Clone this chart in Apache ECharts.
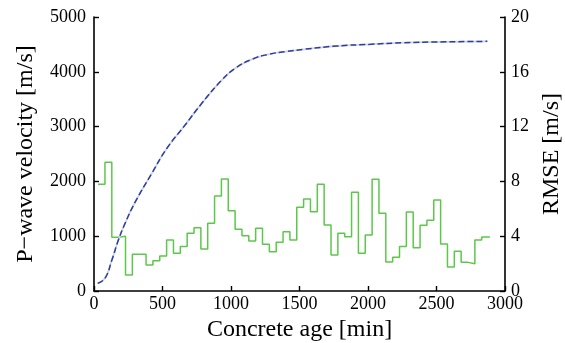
<!DOCTYPE html>
<html>
<head>
<meta charset="utf-8">
<script src="https://cdn.jsdelivr.net/npm/echarts@6/dist/echarts.min.js"></script>
<style>html,body{margin:0;padding:0;background:#fff;}#c{width:565px;height:343px;}</style>
</head>
<body>
<div id="c"></div>
<script>
// P-wave velocity curve (time [min], velocity [m/s])
const velTime = [27, 80, 130, 178, 227, 300, 422, 531, 665, 787, 933, 1031, 1153, 1274, 1396, 1530, 1774, 2018, 2261, 2505, 2871];
const velValue = [140, 232, 560, 930, 1235, 1620, 2147, 2600, 3029, 3425, 3850, 4064, 4228, 4319, 4367, 4410, 4471, 4502, 4531, 4544, 4556];
// RMSE step line: segment start times and values
const rmseTime = [30,80,130,180,230,280,330,380,430,480,530,580,630,680,730,780,830,880,930,980,1030,1080,1130,1180,1230,1280,1330,1380,1430,1480,1530,1580,1630,1680,1730,1780,1830,1880,1930,1980,2030,2080,2130,2180,2230,2280,2330,2380,2430,2480,2530,2580,2630,2680,2730,2780,2830,2890];
const rmseValue = [7.79,9.39,3.92,3.99,1.17,2.68,2.68,1.9,2.21,2.55,3.72,2.75,3.24,4.21,4.62,3.07,4.94,6.93,8.18,5.86,4.5,4.04,3.65,4.58,3.41,2.87,3.55,4.33,3.72,6.11,6.72,5.79,7.79,4.82,2.63,4.21,3.96,7.2,2.75,4.09,8.15,5.67,2.12,2.46,3.24,5.77,3.16,4.8,5.16,6.64,3.43,1.75,2.9,2.09,1.99,3.72,3.94,3.94];
// Axis ticks
const xTicks = [0, 500, 1000, 1500, 2000, 2500, 3000];
const yLeftTicks = [0, 1000, 2000, 3000, 4000, 5000];
const yRightTicks = [0, 4, 8, 12, 16, 20];

const FONT = '"Liberation Serif", "DejaVu Serif", serif';
const velData = velTime.map((t, i) => [t, velValue[i]]);
const rmseData = rmseTime.map((t, i) => [t, rmseValue[i]]);

const axisLine = {show: true, lineStyle: {color: '#000', width: 1.6}};
const axisTick = {show: true, inside: true, length: 5, lineStyle: {color: '#000', width: 1.4}};
const labelStyle = {color: '#000', fontFamily: FONT, fontSize: 18, formatter: v => String(v)};
const nameStyle = {color: '#000', fontFamily: FONT, fontSize: 24};

const chart = echarts.init(document.getElementById('c'), null, {renderer: 'canvas'});
chart.setOption({
  animation: false,
  backgroundColor: '#fff',
  grid: {left: 94, right: 60, top: 17, bottom: 52, containLabel: false, outerBoundsMode: 'none'},
  xAxis: {
    type: 'value', min: xTicks[0], max: xTicks[xTicks.length - 1], interval: 500,
    name: 'Concrete age [min]', nameLocation: 'middle', nameGap: 25,
    nameTextStyle: nameStyle,
    axisLine, axisTick, splitLine: {show: false},
    axisLabel: Object.assign({margin: 4}, labelStyle)
  },
  yAxis: [
    {
      type: 'value', min: yLeftTicks[0], max: yLeftTicks[yLeftTicks.length - 1], interval: 1000,
      position: 'left',
      name: 'P\u2212wave velocity [m/s]', nameLocation: 'middle', nameGap: 56,
      nameTextStyle: nameStyle,
      axisLine, axisTick, splitLine: {show: false},
      axisLabel: Object.assign({margin: 8}, labelStyle)
    },
    {
      type: 'value', min: yRightTicks[0], max: yRightTicks[yRightTicks.length - 1], interval: 4,
      position: 'right',
      name: 'RMSE [m/s]', nameLocation: 'middle', nameGap: 32,
      nameTextStyle: nameStyle,
      axisLine, axisTick, splitLine: {show: false},
      axisLabel: Object.assign({margin: 6}, labelStyle)
    }
  ],
  series: [
    {
      type: 'line', yAxisIndex: 1, data: rmseData, step: 'end', showSymbol: false,
      lineStyle: {color: '#5cc84a', width: 1.5}, z: 2
    },
    {
      type: 'line', yAxisIndex: 0, data: velData, smooth: 0.5, showSymbol: false,
      lineStyle: {color: '#d4d4d8', width: 1.8}, z: 3
    },
    {
      type: 'line', yAxisIndex: 0, data: velData, smooth: 0.5, showSymbol: false,
      lineStyle: {color: '#2a3ea6', width: 1.5, type: [6, 3]}, z: 4
    }
  ]
});
</script>
</body>
</html>
